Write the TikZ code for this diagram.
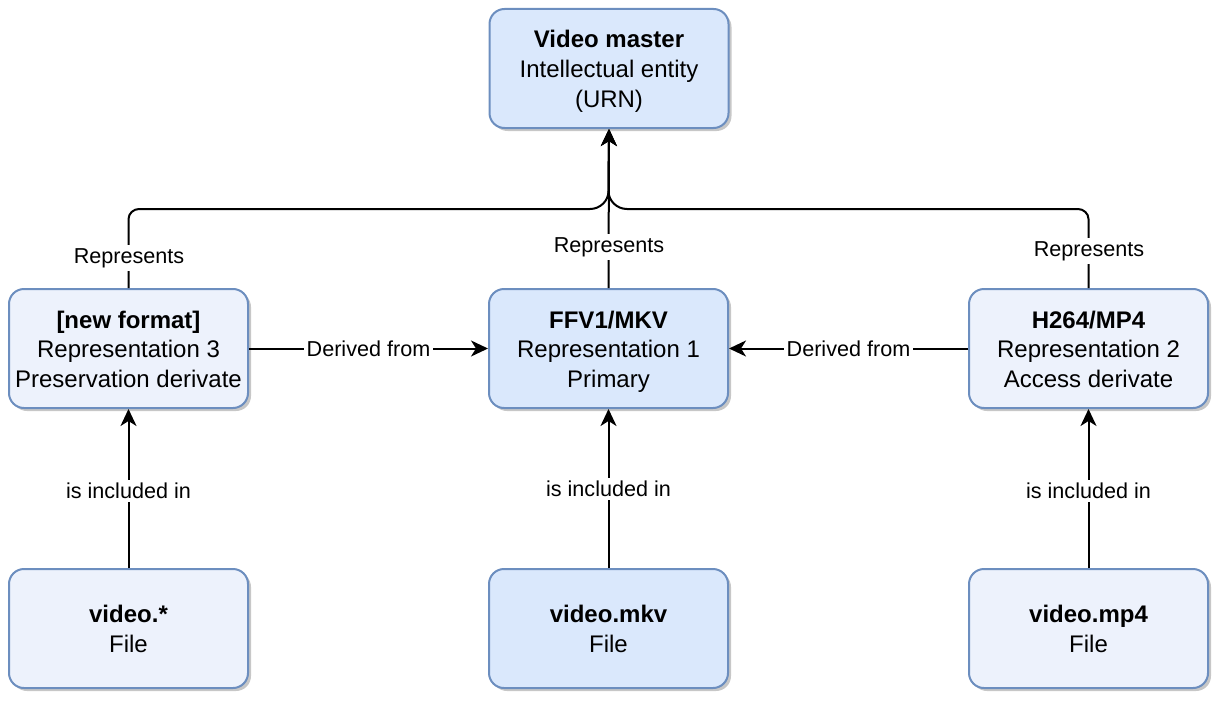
\documentclass[tikz,border=0pt]{standalone}
\usepackage{fontspec}
\setmainfont{Liberation Sans}
\usetikzlibrary{arrows.meta,shadows}
\definecolor{boxline}{HTML}{6C8EBF}
\definecolor{darkfill}{HTML}{DAE8FC}
\definecolor{lightfill}{HTML}{EDF2FC}
\newcommand{\boxtopstrut}{\rule{0pt}{12pt}}
\newcommand{\boxbotstrut}{\rule[-3pt]{0pt}{3pt}}
\tikzset{
  box/.style={draw=boxline, line width=1pt, rounded corners=7.5pt,
    minimum width=119.5pt, minimum height=59.5pt, align=center,
    font=\fontsize{12}{14.75}\selectfont, inner sep=0pt,
    drop shadow={shadow xshift=1.5pt, shadow yshift=-1.5pt, opacity=0.22, fill=black}},
  darkbox/.style={box, fill=darkfill},
  lightbox/.style={box, fill=lightfill},
  conn/.style={line width=1pt, -{Stealth[length=8.5pt,width=8pt,inset=2.5pt]}},
  lbl/.style={fill=white, inner sep=1.5pt, font=\fontsize{10.8}{12}\selectfont}
}
\begin{document}
\begin{tikzpicture}[x=0.5pt,y=-0.5pt]
\useasboundingbox (0,0) rectangle (1224,706);
% boxes
\node[darkbox] (top) at (609,68.5) {\boxtopstrut\textbf{Video master}\\Intellectual entity\\(URN)\boxbotstrut};
\node[lightbox] (rep3) at (128.5,348.5) {\boxtopstrut\textbf{[new format]}\\Representation 3\\Preservation derivate\boxbotstrut};
\node[darkbox] (rep1) at (608.5,348.5) {\boxtopstrut\textbf{FFV1/MKV}\\Representation 1\\Primary\boxbotstrut};
\node[lightbox] (rep2) at (1088.5,348.5) {\boxtopstrut\textbf{H264/MP4}\\Representation 2\\Access derivate\boxbotstrut};
\node[lightbox] (f3) at (128.5,628.5) {\boxtopstrut\textbf{video.*}\\File\boxbotstrut};
\node[darkbox] (f1) at (608.5,628.5) {\boxtopstrut\textbf{video.mkv}\\File\boxbotstrut};
\node[lightbox] (f2) at (1088.5,628.5) {\boxtopstrut\textbf{video.mp4}\\File\boxbotstrut};
% coordinates
\coordinate (jl) at (590,209);
\coordinate (jr) at (627,209);
\coordinate (jt) at (608.5,191);
% represents edges
\draw[conn] (rep3.north) -- (128.5,219) .. controls (128.5,213.5) and (133.5,209) .. (139,209)
  -- (jl) .. controls (600,209) and (608.5,201) .. (jt) -- (top.south);
\draw[conn] (rep2.north) -- (1088.5,219) .. controls (1088.5,213.5) and (1083.5,209) .. (1078,209)
  -- (jr) .. controls (617,209) and (608.5,201) .. (jt) -- (top.south);
\draw[conn] (rep1.north) -- (top.south);
\node[lbl] (r3) at (129,258) {Represents};
\node[lbl] (r1) at (609,247) {Represents};
\node[lbl] (r2) at (1089,251) {Represents};
% derived from
\draw[conn] (rep3.east) -- node[lbl] (d3) {Derived from} (rep1.west);
\draw[conn] (rep2.west) -- node[lbl] (d2) {Derived from} (rep1.east);
% included
\draw[conn] (f3.north) -- node[lbl, pos=0.484] (i3) {is included in} (rep3.south);
\draw[conn] (f1.north) -- node[lbl, pos=0.497] (i1) {is included in} (rep1.south);
\draw[conn] (f2.north) -- node[lbl, pos=0.484] (i2) {is included in} (rep2.south);
\end{tikzpicture}
\end{document}
